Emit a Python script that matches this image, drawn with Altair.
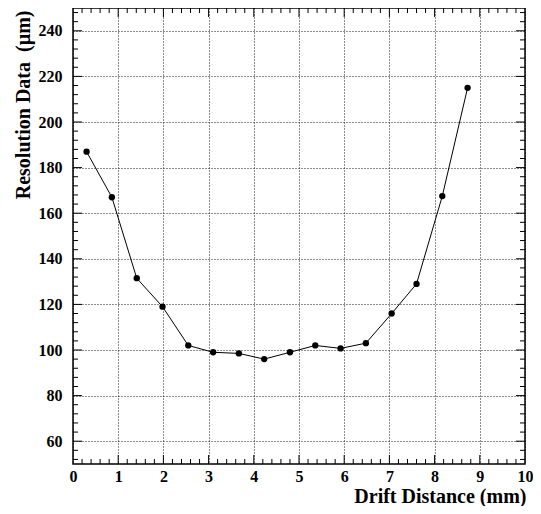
import altair as alt
import pandas as pd

# Data
drift = [0.30, 0.86, 1.41, 1.98, 2.55, 3.10, 3.67, 4.23, 4.80, 5.36, 5.92, 6.48, 7.05, 7.60, 8.17, 8.73]
resol = [187.0, 167.0, 131.5, 119.0, 102.0, 99.0, 98.5, 96.0, 99.0, 102.0, 100.7, 103.0, 116.0, 129.0, 167.5, 215.0]

x_major = [1, 2, 3, 4, 5, 6, 7, 8, 9]
x_minor = [round(i * 0.2, 1) for i in range(1, 50) if i % 5 != 0]
y_major = [60, 80, 100, 120, 140, 160, 180, 200, 220, 240]
y_minor = [v for v in range(52, 250, 4) if v % 20 != 0]

W, H = 452, 456
MAJ, MIN = 9, 5
FONT = "Liberation Serif"

xs = alt.Scale(domain=[0, 10], nice=False, zero=False)
ys = alt.Scale(domain=[50, 250], nice=False, zero=False)

df = pd.DataFrame({"x": drift, "y": resol})
dxM = pd.DataFrame({"x": x_major})
dxm = pd.DataFrame({"x": x_minor})
dyM = pd.DataFrame({"y": y_major})
dym = pd.DataFrame({"y": y_minor})

xaxis = alt.Axis(
    values=list(range(0, 11)), format="d", grid=True, gridDash=[1, 2], gridColor="#000",
    gridOpacity=0.9, gridWidth=1, domain=False, ticks=False, tickSize=0,
    labelFont=FONT, labelFontSize=16, labelFontWeight="bold", labelColor="#000",
    labelPadding=4, labelFlush=False,
    title="Drift Distance (mm)", titleFont=FONT, titleFontSize=20, titleFontWeight="bold",
    titleColor="#000", titleAlign="right", titleBaseline="alphabetic", titleX=W + 1, titleY=38,
)
yaxis = alt.Axis(
    values=y_major, format="d", grid=True, gridDash=[1, 2], gridColor="#000",
    gridOpacity=0.9, gridWidth=1, domain=False, ticks=False, tickSize=0,
    labelFont=FONT, labelFontSize=16, labelFontWeight="bold", labelColor="#000",
    labelPadding=11, labelFlush=False,
    title="Resolution Data\u00a0 (µm)", titleFont=FONT, titleFontSize=20, titleFontWeight="bold",
    titleColor="#000", titleAngle=270, titleAlign="right", titleBaseline="alphabetic",
    titleX=-44, titleY=2,
)

X = alt.X("x:Q", scale=xs, axis=xaxis)
Y = alt.Y("y:Q", scale=ys, axis=yaxis)

line = alt.Chart(df).mark_line(color="#000", strokeWidth=1).encode(x=X, y=Y)
pts = alt.Chart(df).mark_circle(color="#000", opacity=1, size=40).encode(x=X, y=Y)

def xticks(d, L):
    bot = alt.Chart(d).mark_rule(color="#000", strokeWidth=1).encode(
        x=X, y=alt.value(H), y2=alt.value(H - L))
    top = alt.Chart(d).mark_rule(color="#000", strokeWidth=1).encode(
        x=X, y=alt.value(0), y2=alt.value(L))
    return [bot, top]

def yticks(d, L):
    left = alt.Chart(d).mark_rule(color="#000", strokeWidth=1).encode(
        y=Y, x=alt.value(0), x2=alt.value(L))
    right = alt.Chart(d).mark_rule(color="#000", strokeWidth=1).encode(
        y=Y, x=alt.value(W), x2=alt.value(W - L))
    return [left, right]

layers = [line, pts] + xticks(dxM, MAJ) + xticks(dxm, MIN) + yticks(dyM, MAJ) + yticks(dym, MIN)

chart = alt.layer(*layers).properties(
    width=W, height=H,
    autosize=alt.AutoSizeParams(type="none"),
    padding={"left": 65, "top": 0, "right": 8, "bottom": 42},
    background="white",
).configure_view(stroke="#000", strokeWidth=1.5)

chart.save("out.html", embed_options={"renderer": "svg", "actions": False})
